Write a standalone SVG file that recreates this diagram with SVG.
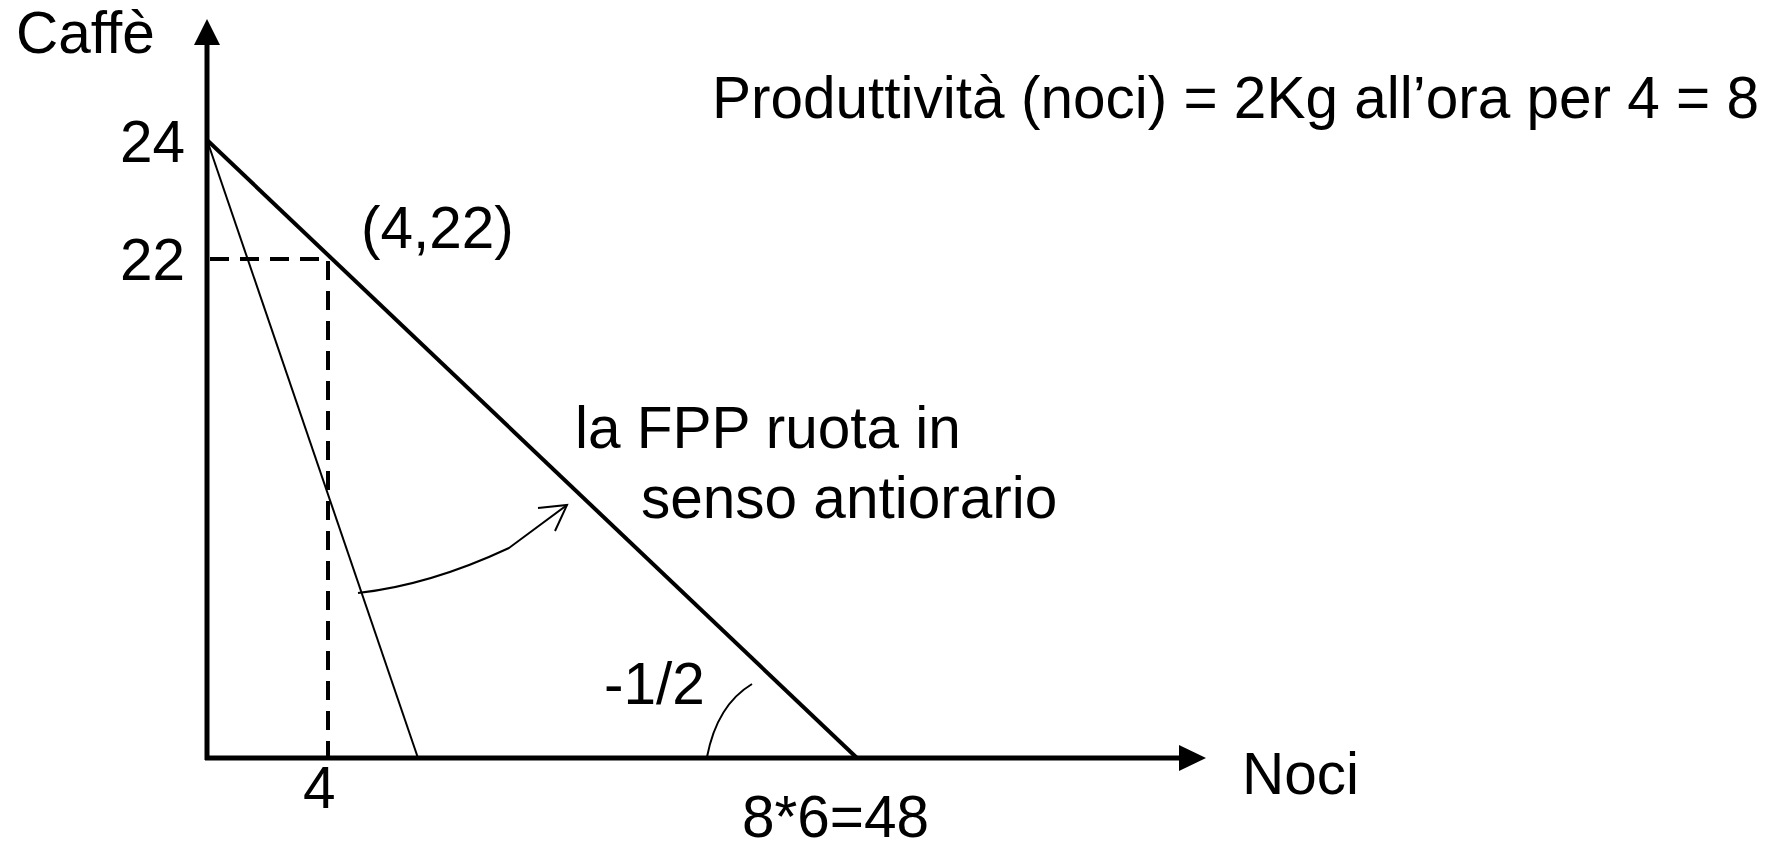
<svg xmlns="http://www.w3.org/2000/svg" width="1778" height="843" viewBox="0 0 1778 843">
<style>
text{font-family:"Liberation Sans",Arial,sans-serif;font-size:58.5px;fill:#000}
.ax{stroke:#000;stroke-width:5;fill:none}
.thick{stroke:#000;stroke-width:4;fill:none}
.thin{stroke:#000;stroke-width:2;fill:none}
.dash{stroke:#000;stroke-width:4;fill:none;stroke-dasharray:19,11}
</style>
<rect width="1778" height="843" fill="#fff"/>
<g id="connectors">
<line class="ax" x1="207" y1="760" x2="207" y2="40"/>
<polygon points="207,19 194,45 220,45" fill="#000"/>
<line class="ax" x1="205" y1="758" x2="1182" y2="758"/>
<polygon points="1206,758 1179,745 1179,771" fill="#000"/>
<line class="thick" x1="207" y1="140" x2="857" y2="758"/>
<line class="thin" x1="207" y1="140" x2="418" y2="758"/>
<polyline class="dash" points="210,259 328,259 328,758"/>
<path class="thin" d="M358,593 Q430,585 509,548 L567,505"/>
<path class="thin" d="M538,508 L567,505 L555,531"/>
<path class="thin" d="M707,757 Q717,705 752,684"/>
</g>
<g id="labels">
<text x="16" y="53">Caffè</text>
<text x="120" y="162">24</text>
<text x="120" y="280">22</text>
<text x="361" y="248">(4,22)</text>
<text x="712" y="118">Produttività (noci) = 2Kg all’ora per 4 = 8</text>
<text x="575" y="448">la FPP ruota in</text>
<text x="641" y="518">senso antiorario</text>
<text x="604" y="704">-1/2</text>
<text x="303" y="808">4</text>
<text x="1242" y="794">Noci</text>
<text x="742" y="837">8*6=48</text>
</g>
</svg>
